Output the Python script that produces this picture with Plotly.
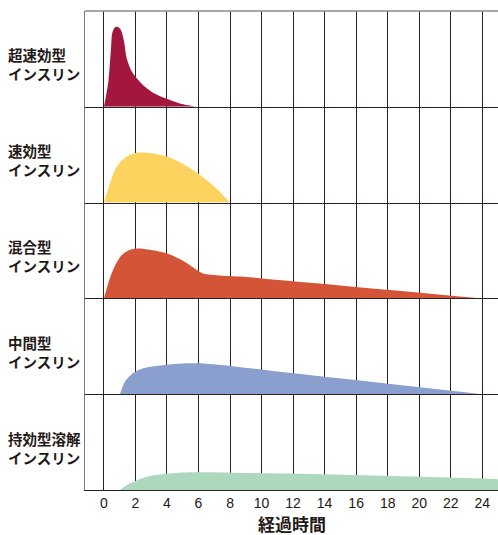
import plotly.graph_objects as go
from plotly.subplots import make_subplots

# ---- data (hours after injection, relative effect height per row) ----
row_label_top = ["超速効型", "速効型", "混合型", "中間型", "持効型溶解"]
row_label_bottom = ["インスリン", "インスリン", "インスリン", "インスリン", "インスリン"]
colors = ["#A3173F", "#FCD35F", "#D35437", "#8B9FCF", "#AED8BE"]

rapid_x = [0.0, 0.28, 0.45, 0.53, 0.7, 0.85, 1.05, 1.2, 1.3, 1.44, 1.76, 1.97, 2.6, 3.24, 3.98, 4.72, 5.35, 5.8]
rapid_y = [0.0, 0.26, 0.61, 0.77, 0.83, 0.835, 0.81, 0.74, 0.66, 0.51, 0.37, 0.32, 0.21, 0.135, 0.083, 0.04, 0.015, 0.0]

regular_x = [0.0, 0.38, 0.7, 1.12, 1.55, 2.07, 2.8, 3.98, 4.93, 5.99, 7.05, 7.9, 8.0]
regular_y = [0.0, 0.20, 0.34, 0.44, 0.49, 0.52, 0.52, 0.48, 0.41, 0.30, 0.16, 0.02, 0.0]

mixed_x = [0.0, 0.38, 0.7, 1.12, 1.55, 2.07, 2.8, 3.98, 4.93, 5.78, 6.3, 9.27, 24.0]
mixed_y = [0.0, 0.21, 0.34, 0.45, 0.50, 0.52, 0.51, 0.47, 0.40, 0.31, 0.26, 0.22, 0.0]

nph_x = [1.02, 1.33, 1.86, 2.5, 3.56, 5.04, 6.3, 8.0, 9.27, 24.0]
nph_y = [0.0, 0.13, 0.22, 0.27, 0.30, 0.32, 0.32, 0.295, 0.27, 0.0]

basal_x = [1.02, 1.44, 2.07, 2.92, 4.0, 5.67, 10.0, 12.4, 24.0, 25.2]
basal_y = [0.0, 0.05, 0.10, 0.146, 0.17, 0.185, 0.175, 0.17, 0.12, 0.11]

series_x = [rapid_x, regular_x, mixed_x, nph_x, basal_x]
series_y = [rapid_y, regular_y, mixed_y, nph_y, basal_y]

tick_vals = list(range(0, 25, 2))
x_title = "経過時間"

# ---- figure ----
fig = make_subplots(rows=5, cols=1, shared_xaxes=True, vertical_spacing=0)

for i in range(5):
    fig.add_trace(go.Scatter(
        x=series_x[i], y=series_y[i], mode="lines",
        line=dict(width=0, shape="spline", smoothing=0.8, color=colors[i]),
        fill="tozeroy", fillcolor=colors[i], hoverinfo="skip", showlegend=False),
        row=i + 1, col=1)

dark = "#2a2222"
for i in range(1, 6):
    fig.update_xaxes(row=i, col=1, range=[-1.2, 25.0], tickvals=tick_vals,
                     showgrid=True, gridcolor=dark, gridwidth=1.1,
                     showline=True, linecolor=dark, linewidth=1.3,
                     zeroline=False, ticks="", showticklabels=(i == 5),
                     tickfont=dict(family="Liberation Sans, Arial", size=14, color="#231815"))
    fig.update_yaxes(row=i, col=1, range=[0, 1], showgrid=False, zeroline=False,
                     showticklabels=False, ticks="", showline=True,
                     linecolor="#7a7a7a", linewidth=1.3)

PW, PH = 413, 479
annotations = []
lab_font = dict(family="Noto Sans CJK JP", size=14.5, color="#231815")
for i in range(5):
    yc = 1 - (i + 0.5) / 5
    annotations.append(dict(
        xref="paper", yref="paper", x=(6 - 85) / PW, xanchor="left",
        y=yc + 4 / PH, yanchor="middle", text="<b>" + row_label_top[i] + "</b>",
        showarrow=False, font=lab_font))
    annotations.append(dict(
        xref="paper", yref="paper", x=(6 - 85) / PW, xanchor="left",
        y=yc - 15 / PH, yanchor="middle", text="<b>" + row_label_bottom[i] + "</b>",
        showarrow=False, font=lab_font))
annotations.append(dict(
    xref="paper", yref="paper", x=0.5, xanchor="center", y=-33 / PH, yanchor="middle",
    text="<b>" + x_title + "</b>", showarrow=False,
    font=dict(family="Noto Sans CJK JP", size=17, color="#231815")))

fig.update_layout(
    width=498, height=535,
    margin=dict(l=85, r=0, t=11, b=45),
    paper_bgcolor="white", plot_bgcolor="white",
    annotations=annotations,
    shapes=[dict(type="line", xref="paper", yref="paper", x0=0, x1=1, y0=1, y1=1,
                 line=dict(color="#8a8a8a", width=1.3))],
)

fig.write_html("out.html", config={"displayModeBar": False},
               post_script="document.body.style.margin='0px';")
